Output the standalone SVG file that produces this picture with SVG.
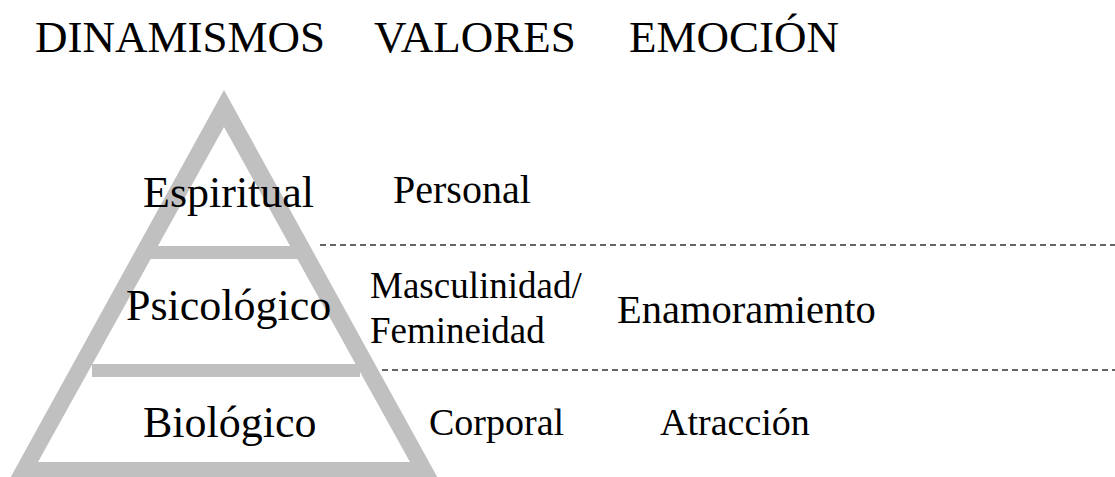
<svg xmlns="http://www.w3.org/2000/svg" width="1115" height="477" viewBox="0 0 1115 477">
<style>
text{font-family:"Liberation Serif","Times New Roman",serif;fill:#000}
.t{font-size:45px}
.lvl{font-size:44px}
.pyr{fill:#c0c0c0}
.dash{stroke:#333;stroke-width:1.3;stroke-dasharray:6 4;fill:none}
</style>
<rect width="1115" height="477" fill="#fff"/>
<g id="headers">
<text class="t" x="35" y="52">DINAMISMOS</text>
<text class="t" x="374" y="52">VALORES</text>
<text class="t" x="629" y="52">EMOCIÓN</text>
</g>
<g id="pyramid">
<path class="pyr" fill-rule="evenodd" d="M224,90 L8,482 L440,482 Z M224,127 L38,462 L410,462 Z"/>
<rect class="pyr" x="150" y="246" width="150" height="13"/>
<rect class="pyr" x="92" y="364" width="268" height="13"/>
</g>
<g id="connectors">
<line class="dash" x1="320" y1="245" x2="1115" y2="245"/>
<line class="dash" x1="382" y1="370" x2="1115" y2="370"/>
</g>
<g id="espiritual">
<text class="lvl" x="143" y="207">Espiritual</text>
<text x="393" y="203" font-size="40">Personal</text>
</g>
<g id="psicologico">
<text class="lvl" x="126" y="320">Psicológico</text>
<text x="370" y="298" font-size="37">Masculinidad/</text>
<text x="370" y="343" font-size="37">Femineidad</text>
<text x="617" y="323" font-size="40.5">Enamoramiento</text>
</g>
<g id="biologico">
<text class="lvl" x="143" y="437">Biológico</text>
<text x="429" y="435" font-size="38">Corporal</text>
<text x="660" y="435" font-size="38">Atracción</text>
</g>
</svg>
